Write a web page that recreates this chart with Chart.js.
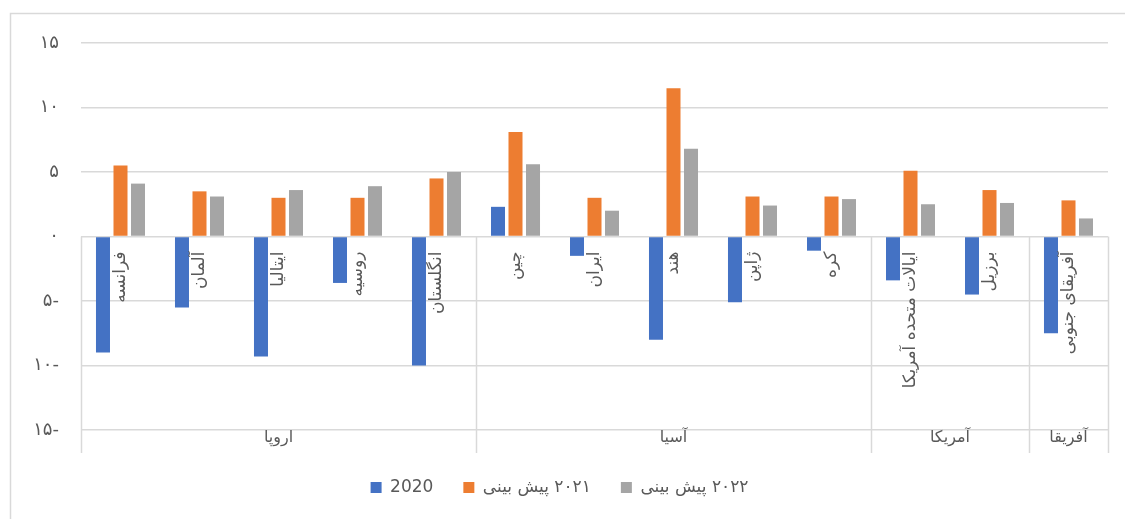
<!DOCTYPE html>
<html>
<head>
<meta charset="utf-8">
<script src="https://cdn.jsdelivr.net/npm/chart.js@4"></script>
<style>
    body { margin: 0; background: #fff; }
    #wrap { width: 1125px; height: 519px; position: relative; }
</style>
</head>
<body>
<div id="wrap"><canvas id="growthChart"></canvas></div>
<script>
// Country categories, left to right
const categories = ['فرانسه', 'آلمان', 'ایتالیا', 'روسیه', 'انگلستان', 'چین', 'ایران', 'هند', 'ژاپن', 'کره', 'ایالات متحده آمریکا', 'برزیل', 'آفریقای جنوبی'];
// Region groups under the countries
const groupNames = ['اروپا', 'آسیا', 'آمریکا', 'آفریقا'];
const groupSizes = [5, 5, 2, 1];

// Series values
const values2020 = [-9.0, -5.5, -9.3, -3.6, -10.0, 2.3, -1.5, -8.0, -5.1, -1.1, -3.4, -4.5, -7.5];
const forecast2021 = [5.5, 3.5, 3.0, 3.0, 4.5, 8.1, 3.0, 11.5, 3.1, 3.1, 5.1, 3.6, 2.8];
const forecast2022 = [4.1, 3.1, 3.6, 3.9, 5.0, 5.6, 2.0, 6.8, 2.4, 2.9, 2.5, 2.6, 1.4];

// Y axis ticks (Persian digits)
const yTickValues = [15, 10, 5, 0, -5, -10, -15];
const yTickLabels = ['۱۵', '۱۰', '۵', '۰', '۵-', '۱۰-', '۱۵-'];

const seriesLabels = ['2020', '\u200F۲۰۲۱ پیش بینی', '\u200F۲۰۲۲ پیش بینی'];

const FONT = "'DejaVu Sans', sans-serif";
const TEXT = '#595959';
const LINE = '#d9d9d9';

// Outer frame, category names along the zero line, region lines and names
const decorPlugin = {
    id: 'decor',
    beforeDraw(chart) {
        const ctx = chart.ctx;
        ctx.save();
        ctx.strokeStyle = LINE;
        ctx.lineWidth = 1.5;
        ctx.beginPath();
        ctx.moveTo(10.5, chart.height);
        ctx.lineTo(10.5, 13.5);
        ctx.lineTo(chart.width, 13.5);
        ctx.stroke();
        ctx.restore();
    },
    afterDraw(chart) {
        const ctx = chart.ctx;
        const x = chart.scales.x;
        const y = chart.scales.y;
        const zero = y.getPixelForValue(0);
        const bottom = chart.chartArea.bottom;
        const half = (x.getPixelForValue(1) - x.getPixelForValue(0)) / 2;

        ctx.save();
        ctx.fillStyle = TEXT;
        ctx.font = '17px ' + FONT;

        // country names, rotated
        categories.forEach((name, i) => {
            ctx.save();
            ctx.translate(x.getPixelForValue(i), zero + 15);
            ctx.rotate(-Math.PI / 2);
            ctx.textAlign = 'right';
            ctx.textBaseline = 'middle';
            ctx.fillText(name, 0, 0);
            ctx.restore();
        });

        // region separators and names
        ctx.strokeStyle = LINE;
        ctx.lineWidth = 1.5;
        let start = 0;
        const edges = [start];
        groupSizes.forEach(n => { start += n; edges.push(start); });
        edges.forEach(idx => {
            const px = Math.round(x.getPixelForValue(idx) - half) + 0.5;
            ctx.beginPath();
            ctx.moveTo(px, zero);
            ctx.lineTo(px, bottom + 23);
            ctx.stroke();
        });
        ctx.font = '16px ' + FONT;
        ctx.textAlign = 'center';
        ctx.textBaseline = 'middle';
        groupNames.forEach((g, k) => {
            const a = x.getPixelForValue(edges[k]) - half;
            const b = x.getPixelForValue(edges[k + 1]) - half;
            ctx.fillText(g, (a + b) / 2, bottom + 8);
        });
        ctx.restore();
    }
};

const chart = new Chart(document.getElementById('growthChart'), {
    type: 'bar',
    data: {
        labels: categories,
        datasets: [
            { label: seriesLabels[0], data: values2020, backgroundColor: '#4472C4' },
            { label: seriesLabels[1], data: forecast2021, backgroundColor: '#ED7D31' },
            { label: seriesLabels[2], data: forecast2022, backgroundColor: '#A5A5A5' }
        ]
    },
    options: {
        responsive: true,
        maintainAspectRatio: false,
        animation: false,
        categoryPercentage: 0.665,
        barPercentage: 0.8,
        layout: { padding: { left: 11, right: 17, top: 43, bottom: 13 } },
        plugins: {
            legend: {
                position: 'bottom',
                labels: {
                    color: TEXT,
                    font: { family: FONT, size: 17 },
                    boxWidth: 11,
                    boxHeight: 11,
                    padding: 30
                }
            },
            tooltip: { enabled: false }
        },
        scales: {
            x: {
                grid: { display: false },
                border: { display: false },
                ticks: { display: false },
                afterFit(scale) { scale.height = 19; }
            },
            y: {
                min: -15,
                max: 15,
                afterBuildTicks(scale) {
                    scale.ticks = yTickValues.map(v => ({ value: v }));
                },
                afterFit(scale) { scale.width = 70; },
                grid: { color: LINE, lineWidth: 1.5, drawTicks: false },
                border: { display: false },
                ticks: {
                    color: TEXT,
                    font: { family: FONT, size: 18 },
                    padding: 22,
                    callback: (v) => yTickLabels[yTickValues.indexOf(v)] ?? ''
                }
            }
        }
    },
    plugins: [decorPlugin]
});
</script>
</body>
</html>
